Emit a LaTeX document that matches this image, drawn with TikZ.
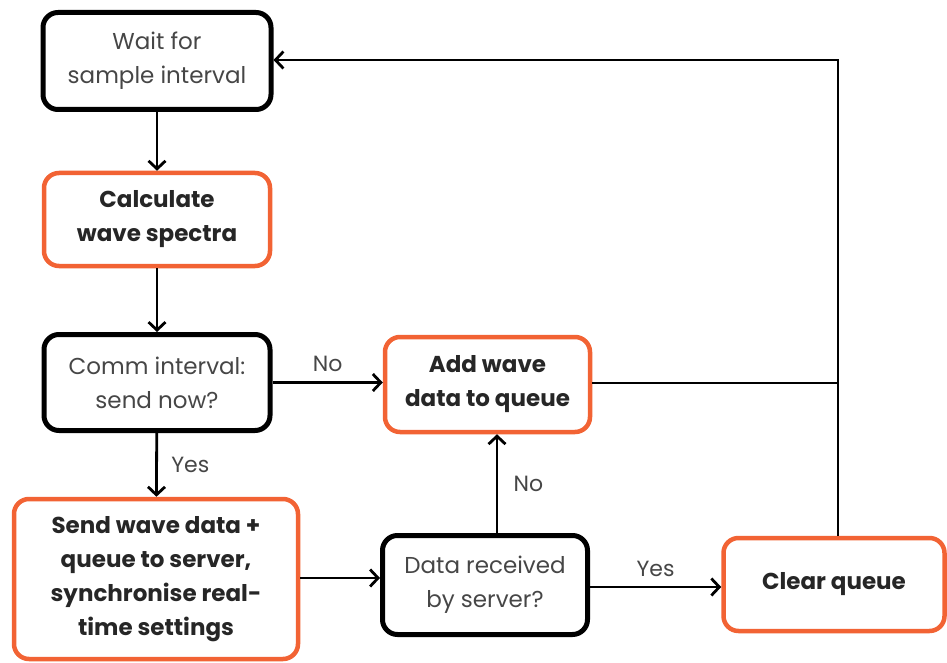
\documentclass[tikz,border=0pt]{standalone}
\usepackage{fontspec}
\setmainfont{Poppins}
\usetikzlibrary{arrows.meta}
\definecolor{boxorange}{RGB}{242,99,52}
\definecolor{textgray}{RGB}{70,70,70}
\tikzset{
  plainbox/.style={draw=black, line width=5pt, rounded corners=15pt, align=center,
    text=textgray, font=\fontsize{23}{34}\selectfont, inner sep=0pt},
  taskbox/.style={draw=boxorange, line width=4.5pt, rounded corners=15pt, align=center,
    text=black!85, font=\fontsize{23}{34}\selectfont\bfseries, inner sep=0pt},
  flow/.style={line width=2.8pt, -{Straight Barb[length=8pt,width=17pt,line width=2.8pt]}},
  lbl/.style={text=textgray, font=\fontsize{22}{26}\selectfont}
}
\begin{document}
\begin{tikzpicture}[x=1pt,y=-1pt]
  \useasboundingbox (0,0) rectangle (947,663);

  % boxes
  \node[plainbox, minimum width=228pt, minimum height=97pt] (wait) at (157,61) {Wait for\\sample interval};
  \node[taskbox, minimum width=226pt, minimum height=93pt] (calc) at (157,219.5) {Calculate\\wave spectra};
  \node[plainbox, minimum width=226pt, minimum height=96pt] (comm) at (157,382.5) {Comm interval:\\send now?};
  \node[taskbox, minimum width=205pt, minimum height=95pt] (add) at (487.5,384.5) {Add wave\\data to queue};
  \node[taskbox, minimum width=284pt, minimum height=160pt] (send) at (156,579) {Send wave data +\\queue to server,\\synchronise real-\\time settings};
  \node[plainbox, minimum width=205pt, minimum height=99pt] (recv) at (485,585) {Data received\\by server?};
  \node[taskbox, minimum width=221pt, minimum height=93pt] (clear) at (834,584.5) {Clear queue};

  \coordinate (joint) at (838,383);
  \coordinate (top) at (838,60);

  % connectors
  \draw[flow] (wait) -- (calc);
  \draw[flow] (calc) -- (comm);
  \draw[flow] (comm.east) -- (comm.east -| add.west) node[midway, above=6pt, lbl] {No};
  \draw[flow] (comm) -- (send) node[midway, right=10pt, lbl] {Yes};
  \draw[flow] ([yshift=1pt]send.east) -- ([yshift=1pt]send.east -| recv.west);
  \draw[flow] ([xshift=12pt]recv.north) -- ([xshift=12pt]recv.north |- add.south) node[midway, right=12pt, lbl] {No};
  \draw[flow] ([yshift=-2pt]recv.east) -- ([yshift=-2pt]recv.east -| clear.west) node[midway, above=6pt, lbl] {Yes};
  \draw[line width=2.8pt] (add.east |- joint) -- (joint);
  \draw[flow] (clear.north -| top) -- (top) -- (top -| wait.east);
\end{tikzpicture}
\end{document}
